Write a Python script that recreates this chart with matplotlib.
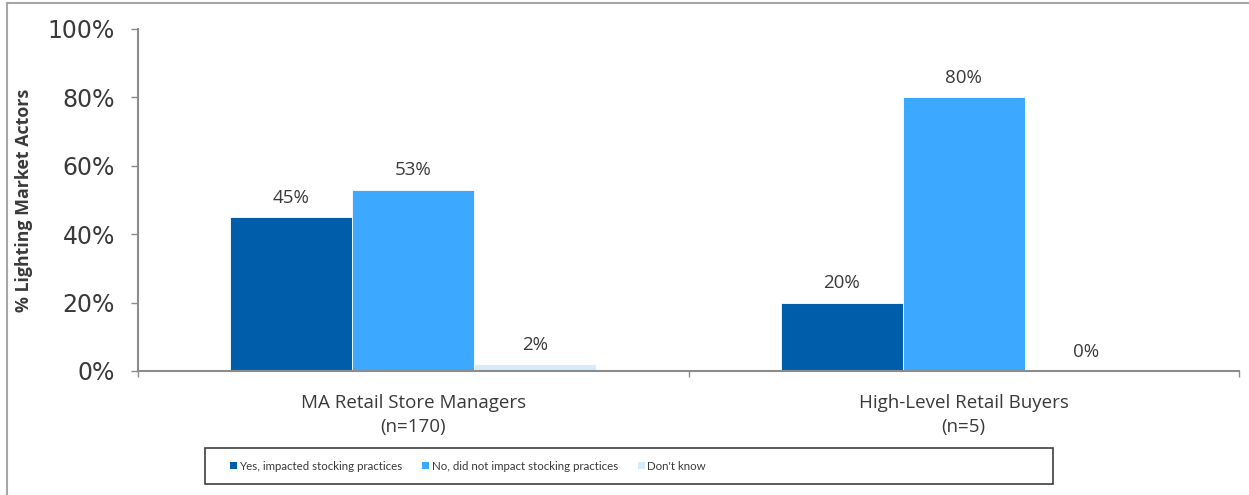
import matplotlib
matplotlib.use("Agg")
import matplotlib.pyplot as plt
from matplotlib.patches import Rectangle, Patch
from matplotlib.ticker import FixedLocator, NullFormatter

# Survey results: share of lighting market actors by response
categories = ["MA Retail Store Managers\n(n=170)", "High-Level Retail Buyers\n(n=5)"]
series_names = [
    "Yes, impacted stocking practices",
    "No, did not impact stocking practices",
    "Don't know",
]
series_values = [
    [45, 20],
    [53, 80],
    [2, 0],
]
series_colors = ["#005DA9", "#3DA8FF", "#D7EBFB"]
y_ticks = [0, 20, 40, 60, 80, 100]
y_tick_labels = ["0%", "20%", "40%", "60%", "80%", "100%"]

TEXT = "#3A3A3A"
AXIS = "#8C8C8C"
W, H = 1249, 495

fig = plt.figure(figsize=(W / 100, H / 100), dpi=100)
ax = fig.add_axes([138 / W, 1 - 371 / H, (1239 - 138) / W, (371 - 29) / H])

bar_w = 0.2215
n = len(series_values)
for i, (name, vals, col) in enumerate(zip(series_names, series_values, series_colors)):
    xs = [c + (i - (n - 1) / 2) * bar_w for c in range(len(categories))]
    ax.bar(xs, vals, width=bar_w, color=col, edgecolor="white",
           linewidth=0.6, label=name, zorder=2)
    for x, v in zip(xs, vals):
        ax.text(x, v + 3.0, f"{v}%", ha="center", va="bottom",
                fontsize=13.5, family="Open Sans", color=TEXT)

ax.set_xlim(-0.5, len(categories) - 0.5)
ax.set_ylim(0, 100)

# y axis
ax.set_yticks(y_ticks)
ax.set_yticklabels(y_tick_labels, family="DejaVu Sans", fontsize=17, color=TEXT)
ax.tick_params(axis="y", direction="out", length=5, width=1, color=AXIS, pad=11.5)
ax.set_ylabel("% Lighting Market Actors", family="Open Sans", fontweight="bold",
              fontsize=12.8, color=TEXT)
ax.yaxis.set_label_coords((33 - 138) / 1101, 0.5)

# x axis: category labels centred, ticks at category boundaries
ax.set_xticks(range(len(categories)))
ax.set_xticklabels(categories, family="Open Sans", fontsize=13.5, color=TEXT,
                   linespacing=1.43)
ax.tick_params(axis="x", length=0, pad=16.5)
ax.xaxis.set_minor_locator(FixedLocator([-0.5, 0.5, 1.5]))
ax.xaxis.set_minor_formatter(NullFormatter())
ax.tick_params(axis="x", which="minor", direction="out", length=4.5, width=1, color=AXIS)

for side in ("top", "right"):
    ax.spines[side].set_visible(False)
for side in ("left", "bottom"):
    ax.spines[side].set_color(AXIS)
    ax.spines[side].set_linewidth(1.5)
ax.spines["bottom"].set_zorder(3)

# Legend with its own frame
handles = [Patch(facecolor=c, edgecolor="none") for c in series_colors]
leg = fig.legend(handles, series_names, loc="center left",
                 bbox_to_anchor=(230 / W, 1 - 466 / H), ncol=3, frameon=False,
                 handlelength=0.62, handleheight=0.62, handletextpad=0.2,
                 columnspacing=1.7, borderpad=0, borderaxespad=0,
                 prop={"family": "Lato", "size": 8.3})
for t in leg.get_texts():
    t.set_color(TEXT)
fig.patches.append(Rectangle((205 / W, 1 - 484 / H), (1053 - 205) / W, 36 / H,
                             transform=fig.transFigure, fill=False,
                             edgecolor="#404040", linewidth=1.2))

# Outer frame (left and top edges)
fig.add_artist(plt.Line2D([7 / W, 7 / W], [0, 1 - 3 / H],
                          transform=fig.transFigure, color="#A6A6A6", linewidth=1.5))
fig.add_artist(plt.Line2D([7 / W, 1], [1 - 3 / H, 1 - 3 / H],
                          transform=fig.transFigure, color="#A6A6A6", linewidth=1.5))

fig.savefig("out.png", dpi=100)
